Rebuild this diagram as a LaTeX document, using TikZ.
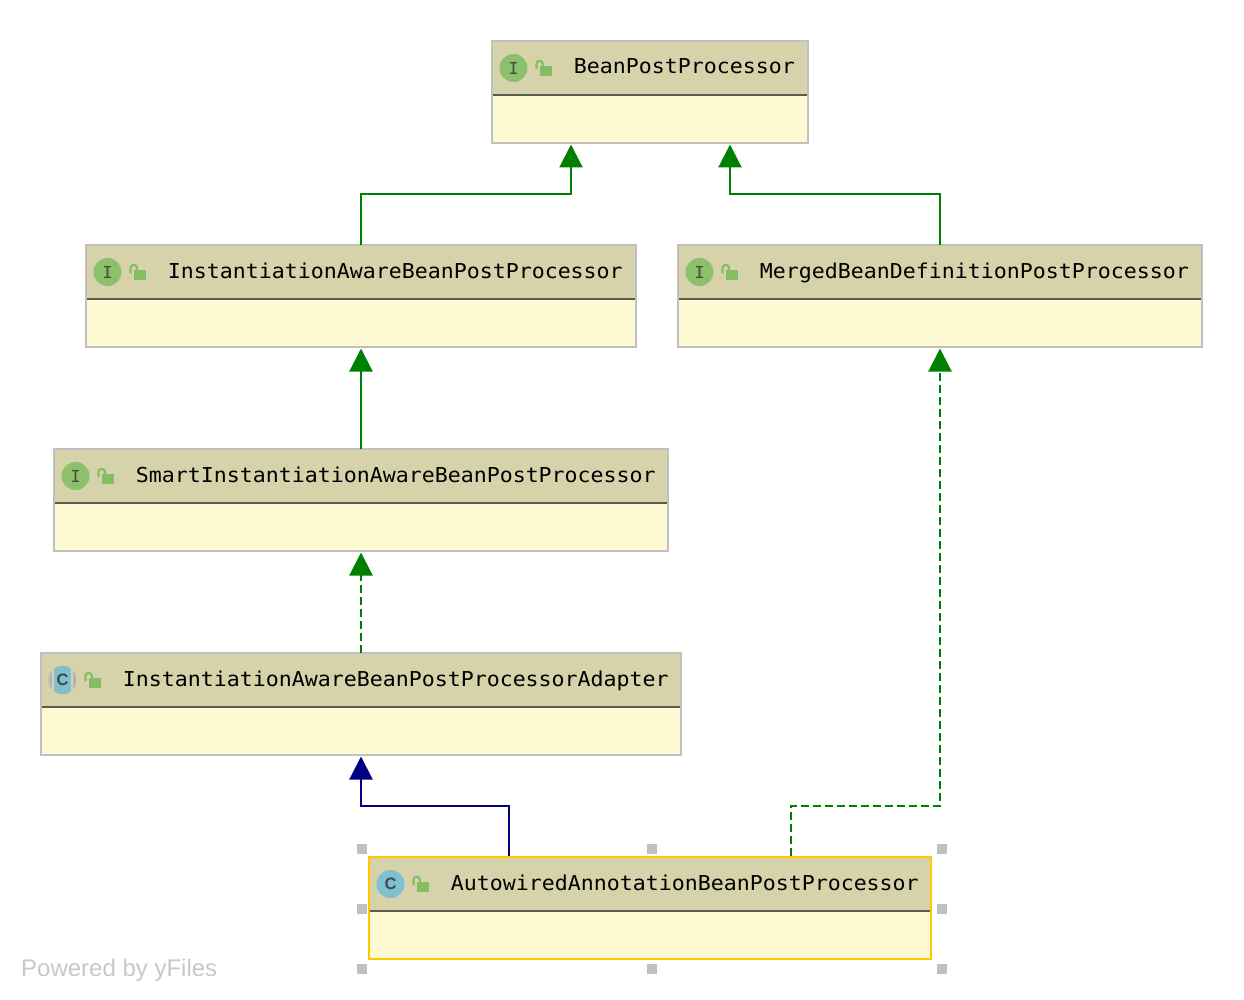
\documentclass[tikz,border=0pt]{standalone}
\usepackage{fontspec}
\newfontfamily\monof[FakeStretch=1.053]{DejaVu Sans Mono}
\newfontfamily\sansf{Liberation Sans}
\usetikzlibrary{arrows.meta,calc}
\definecolor{hdr}{HTML}{D6D3AA}
\definecolor{bdy}{HTML}{FDF9D2}
\definecolor{bord}{HTML}{C0C0C0}
\definecolor{divc}{HTML}{5A5A50}
\definecolor{sel}{HTML}{FFC800}
\definecolor{igreen}{HTML}{8CC06C}
\definecolor{iletter}{HTML}{46503A}
\definecolor{cblue}{HTML}{7EC0D0}
\definecolor{cletter}{HTML}{3C4A50}
\definecolor{agray}{HTML}{B0B4B8}
\definecolor{lockc}{HTML}{84BE62}
\definecolor{edgeg}{HTML}{008000}
\definecolor{edgen}{HTML}{000080}
\definecolor{handle}{HTML}{C0C0C0}
\definecolor{wm}{HTML}{C8C8C8}
\tikzset{
  x=1pt,y=-1pt,
  umlbody/.style={rectangle,inner sep=0pt,outer sep=0pt,fill=bdy,line width=2pt},
  plainbox/.style={umlbody,draw=bord},
  selbox/.style={umlbody,draw=sel},
  umllabel/.style={anchor=base west,inner sep=0pt,font=\monof\fontsize{20.5}{24}\selectfont,text=black},
  iconletter/.style={inner sep=0pt,font=\monof\fontsize{16.5}{18}\selectfont},
  cletterst/.style={inner sep=0pt,text=cletter,font=\sansf\bfseries\fontsize{16.5}{18}\selectfont},
  gen/.style={line width=2.2pt,draw=edgeg,xshift=0.5pt,-{Triangle[width=23pt,length=23pt,fill=edgeg]}},
  impl/.style={gen,dash pattern=on 8pt off 4pt},
  ext/.style={line width=2.2pt,draw=edgen,xshift=0.5pt,-{Triangle[width=23pt,length=23pt,fill=edgen]}},
  handlesq/.style={rectangle,fill=handle,inner sep=0pt,minimum size=10pt},
}
% #1 name, #2 left, #3 right, #4 top, #5 text, #6 box style, #7 icon kind
\newcommand{\umlcls}[7]{%
  \node[#6,minimum width=#3-#2,minimum height=102pt] (#1) at ({(#2+#3)/2},#4+51) {};
  \fill[hdr] (#2+1,#4+1) rectangle (#3-1,#4+53);
  \draw[divc,line width=2pt] (#2+1,#4+54) -- (#3-1,#4+54);
  \begin{scope}[shift={(#2,#4)}]
    #7
    \fill[lockc] (47.5,25) rectangle (59.5,35);
    \draw[lockc,line width=2.2pt] (44.5,28) -- (44.5,23) arc[start angle=180,end angle=360,radius=3.2] -- (50.9,25);
  \end{scope}
  \node[umllabel] (#1-label) at (#2+81.7,#4+33) {#5};
}
\newcommand{\iconI}{%
  \fill[igreen] (21.5,27) circle (14);
  \node[iconletter,text=iletter] at (21.5,27) {I};}
\newcommand{\iconC}{%
  \fill[cblue] (21.5,27) circle (14);
  \node[cletterst] at (21.5,27) {C};}
\newcommand{\iconA}{%
  \begin{scope}
    \clip (21.5,27) circle (14);
    \fill[agray] (7,13) rectangle (36,41);
    \fill[hdr] (11,13) rectangle (13,41);
    \fill[hdr] (30,13) rectangle (32,41);
    \fill[cblue] (13,13) rectangle (30,41);
  \end{scope}
  \node[cletterst] at (21.5,27) {C};}
\begin{document}
\begin{tikzpicture}
\useasboundingbox (0,0) rectangle (1244,1000);
\fill[white] (0,0) rectangle (1244,1000);
\umlcls{bpp}{492}{808}{41}{BeanPostProcessor}{plainbox}{\iconI}
\umlcls{iabpp}{86}{636}{245}{InstantiationAwareBeanPostProcessor}{plainbox}{\iconI}
\umlcls{mbd}{678}{1202}{245}{MergedBeanDefinitionPostProcessor}{plainbox}{\iconI}
\umlcls{siabpp}{54}{668}{449}{SmartInstantiationAwareBeanPostProcessor}{plainbox}{\iconI}
\umlcls{adapter}{41}{681}{653}{InstantiationAwareBeanPostProcessorAdapter}{plainbox}{\iconA}
\umlcls{aabpp}{369}{931}{857}{AutowiredAnnotationBeanPostProcessor}{selbox}{\iconC}
% connectors
\coordinate (bppL) at (571,144.5);
\coordinate (bppR) at (730,144.5);
\coordinate (aL) at (509,856);
\coordinate (aR) at (791,856);
\draw[gen] (iabpp.north) -- ++(0,-51) -| (bppL);
\draw[gen] (mbd.north) -- ++(0,-51) -| (bppR);
\draw[gen] (siabpp.north) -- ($(iabpp.south)+(0,1.5)$);
\draw[impl] (adapter.north) -- ($(siabpp.south)+(0,1.5)$);
\draw[ext] (aL) -- ++(0,-50) -| ($(adapter.south)+(0,1.5)$);
\draw[impl] (aR) -- ++(0,-50) -| ($(mbd.south)+(0,1.5)$);
% selection handles
\foreach \n/\hx/\hy in {h1/361.6/849,h2/651.5/849,h3/941.5/849,h4/361.6/909,h5/941.5/909,h6/361.6/969,h7/651.5/969,h8/941.5/969}{
  \node[handlesq] (\n) at (\hx,\hy) {};
}
\node[anchor=base west,inner sep=0pt,text=wm,font=\sansf\fontsize{24}{26}\selectfont] (powered) at (21,976) {Powered by yFiles};
\end{tikzpicture}
\end{document}
